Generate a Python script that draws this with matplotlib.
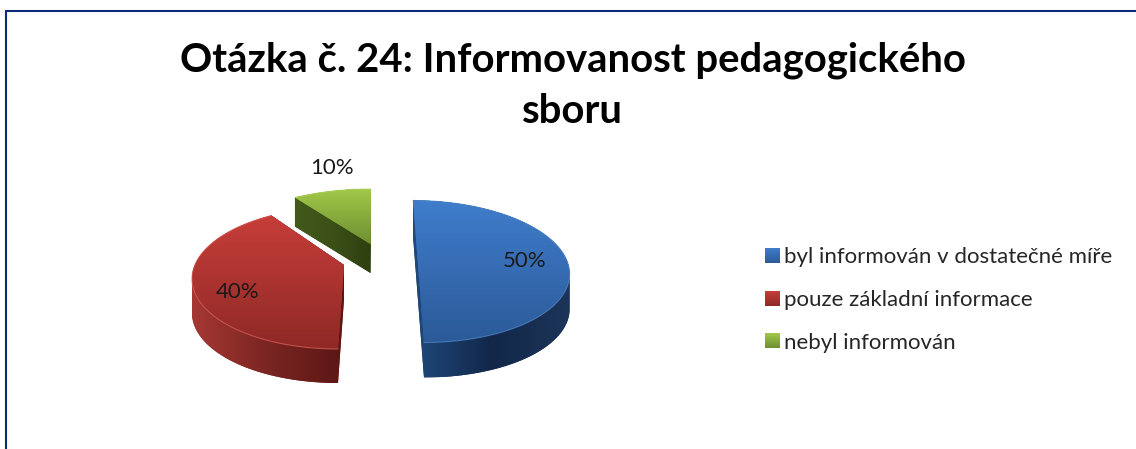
import numpy as np
import matplotlib
matplotlib.use("Agg")
import matplotlib.pyplot as plt
from matplotlib.colors import LinearSegmentedColormap as LSC
from matplotlib.path import Path
from matplotlib.patches import PathPatch

title = "Otázka č. 24: Informovanost pedagogického\nsboru"
categories = ["byl informován v dostatečné míře", "pouze základní informace", "nebyl informován"]
values = [50, 40, 10]

# layout / style in figure pixels
centers = [(418.5, 271.5), (340, 278), (371, 260)]
apexes = [(418.5, 271.5), (344, 265), (370.5, 244)]
radii = [(151, 71), (148, 71), (160, 71)]
shears = [-5.5, 2, 0]
depths = [35, 34, 29]
top_cols = [("#3F7DCC", "#2C5A98"), ("#C73D39", "#8E2926"), ("#A2C947", "#6E8E34")]
side_cols = [("#1F4A7C", "#12274A", "#1C3558"), ("#A63733", "#7A2522", "#5A1614"), ("#435A1B", "#3B4F17", "#2F3F10")]
mid_cols = ["#2F66AE", "#B23532", "#8DB33F"]
rim_cols = ["#4F86C8", "#DB5F5A", "#B5D765"]
label_pos = [(525, 261), (238, 292), (332, 168)]
FONT = "Lato"

fig = plt.figure(figsize=(11.36, 4.49), dpi=100, facecolor="white")
ax = fig.add_axes([0, 0, 1, 1])
wedges, _ = ax.pie(values, startangle=90, counterclock=False, colors=mid_cols)
ax.set_aspect("auto")


def warp(t):
    return t - 8 * np.sin(np.radians(2 * t))


def hull(pts):
    pts = sorted(set(map(tuple, pts)))
    def half(seq):
        h = []
        for p in seq:
            while len(h) > 1 and (h[-1][0]-h[-2][0])*(p[1]-h[-2][1]) - (h[-1][1]-h[-2][1])*(p[0]-h[-2][0]) <= 0:
                h.pop()
            h.append(p)
        return h[:-1]
    return half(pts) + half(pts[::-1])


def gradient(colors, extent, vertical, clip, z):
    cm = LSC.from_list("g", colors)
    g = np.linspace(0, 1, 256)
    arr = g[:, None] if vertical else g[None, :]
    im = ax.imshow(arr, cmap=cm, extent=extent, aspect="auto", interpolation="bilinear", zorder=z)
    if clip is not None:
        im.set_clip_path(clip)


for i, w in enumerate(wedges):
    cw1, cw2 = 90 - w.theta2, 90 - w.theta1
    t = np.radians(warp(np.linspace(cw1, cw2, 120)))
    cx, cy = centers[i]
    rx, ry = radii[i]
    arc = np.column_stack([cx + rx * np.sin(t) + shears[i] * np.cos(t), cy - ry * np.cos(t)])
    pts = np.vstack([[apexes[i]], arc])
    top = Path(np.vstack([pts, pts[0]]), closed=True)
    w._path = top
    w.set_zorder(3)
    w.set_linewidth(0)
    # extruded body
    d = depths[i]
    shifted = pts + [0, d]
    body = np.array(hull(np.vstack([pts, shifted])))
    bp = PathPatch(Path(np.vstack([body, body[0]]), closed=True), fc=side_cols[i][1], lw=0, zorder=1)
    ax.add_patch(bp)
    gradient(side_cols[i], (body[:, 0].min(), body[:, 0].max(), body[:, 1].max(), body[:, 1].min()), False, bp, 2)
    gradient(top_cols[i], (pts[:, 0].min(), pts[:, 0].max(), pts[:, 1].max(), pts[:, 1].min()), True, w, 4)
    ax.plot(arc[:, 0], arc[:, 1], color=rim_cols[i], lw=0.8, alpha=0.7, zorder=5)
    ax.text(*label_pos[i], f"{values[i]}%", ha="center", va="center", fontsize=16,
            family=FONT, color="#1a1a1a", zorder=6)

ax.set_xlim(0, 1136)
ax.set_ylim(449, 0)
ax.axis("off")

ax.plot([6, 6, 1136], [449, 11, 11], color="#0B2A78", lw=1.5, solid_joinstyle="miter", zorder=7)
ax.text(572.5, 85.5, title, ha="center", va="center", fontsize=28.8, fontweight="bold", family=FONT,
        color="black", linespacing=1.48)

leg = ax.legend(wedges, categories, loc="upper left", bbox_to_anchor=(765 / 1136, 1 - 247 / 449),
                bbox_transform=ax.transAxes, frameon=False, prop={"family": FONT, "size": 16},
                handlelength=0.66, handleheight=0.66, handletextpad=0.2, labelspacing=1.03, borderpad=0, borderaxespad=0)
for t in leg.get_texts():
    t.set_color("#262626")

# bevelled legend keys
fig.canvas.draw()
inv = ax.transData.inverted()
for h, cols in zip(leg.legend_handles, top_cols):
    bb = h.get_window_extent().transformed(inv)
    im = gradient(cols, (bb.x0, bb.x1, max(bb.y0, bb.y1), min(bb.y0, bb.y1)), True, None, 8)
ax.set_xlim(0, 1136)
ax.set_ylim(449, 0)

fig.savefig("out.png", dpi=100)
